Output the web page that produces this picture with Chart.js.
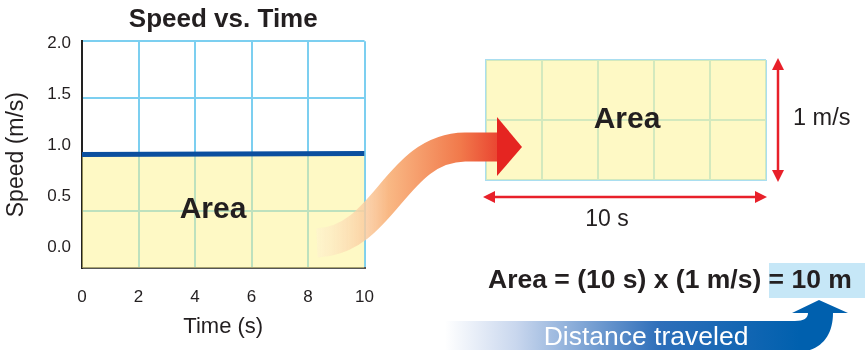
<!DOCTYPE html>
<html>
<head>
<meta charset="utf-8">
<script src="https://cdn.jsdelivr.net/npm/chart.js@4/dist/chart.umd.min.js"></script>
<style>
body{margin:0;width:865px;height:350px;position:relative;overflow:hidden;background:#fff;font-family:"Liberation Sans",Arial,sans-serif;color:#231f20}
canvas,svg{position:absolute}
.lbl{position:absolute;line-height:1;white-space:nowrap}
</style>
</head>
<body>
<canvas id="speedChart" width="393" height="350" style="left:0;top:0"></canvas>
<canvas id="areaChart" width="292" height="132" style="left:480px;top:54px"></canvas>

<svg width="865" height="350" style="left:0;top:0">
  <defs>
    <linearGradient id="orange" gradientUnits="userSpaceOnUse" x1="317" y1="0" x2="522" y2="0">
      <stop offset="0" stop-color="#fdf1d2" stop-opacity="0.5"/>
      <stop offset="0.35" stop-color="#f9b884"/>
      <stop offset="0.7" stop-color="#f1794b"/>
      <stop offset="1" stop-color="#e52521"/>
    </linearGradient>
    <linearGradient id="blue" gradientUnits="userSpaceOnUse" x1="445" y1="0" x2="800" y2="0">
      <stop offset="0" stop-color="#ffffff"/>
      <stop offset="0.2" stop-color="#c9d7ee"/>
      <stop offset="0.6" stop-color="#2f6fba"/>
      <stop offset="1" stop-color="#0060ae"/>
    </linearGradient>
  </defs>
  <!-- highlight behind the result -->
  <rect x="769" y="263" width="96" height="35" fill="#c6e7f7"/>
  <!-- blue banner arrow -->
  <path d="M445,321 L795,321 C804,321 808,318 808,313 L792,313 L819,300 L848,313 L833,313 C833,335 822,350 800,352 L445,352 Z" fill="url(#blue)"/>
  <!-- red dimension arrows -->
  <g stroke="#e8202a" stroke-width="2.5">
    <line x1="492" y1="197" x2="758" y2="197"/>
    <line x1="778" y1="66" x2="778" y2="174"/>
  </g>
  <g fill="#e8202a">
    <polygon points="483,197 495,191 495,203"/>
    <polygon points="767,197 755,191 755,203"/>
    <polygon points="778,58 772,70 784,70"/>
    <polygon points="778,182 772,170 784,170"/>
  </g>
  <!-- orange curved arrow -->
  <path d="M317,243 C385,240 395,148 465,147 L499,147" fill="none" stroke="url(#orange)" stroke-width="29"/>
  <polygon points="497,117 522,147 497,176" fill="#e52521"/>
</svg>

<div class="lbl" style="left:213px;top:208px;transform:translate(-50%,-50%);font-weight:bold;font-size:30px">Area</div>
<div class="lbl" style="left:627px;top:118px;transform:translate(-50%,-50%);font-weight:bold;font-size:30px">Area</div>
<div class="lbl" style="left:793px;top:118px;transform:translateY(-50%);font-size:23.5px">1 m/s</div>
<div class="lbl" style="left:607px;top:218px;transform:translate(-50%,-50%);font-size:23px">10 s</div>
<div class="lbl" style="left:488px;top:279px;transform:translateY(-50%);font-weight:bold;font-size:26.5px">Area = (10 s) x (1 m/s) = 10 m</div>
<div class="lbl" style="left:646px;top:336px;transform:translate(-50%,-50%);font-size:26.5px;color:#fff">Distance traveled</div>

<script>
// dados
var timeValues=[0,10];
var speedValues=[1.0,1.01];
var timeTicks=[0,2,4,6,8,10];
var speedTicks=[0.0,0.5,1.0,1.5,2.0];
var rectTime=[0,10];
var rectSpeed=[1,1];

Chart.defaults.font.family='"Liberation Sans", Arial, sans-serif';
Chart.defaults.color='#231f20';

var gridBlue='#7ccff0';
var fillYellow='rgba(253,243,140,0.5)';

function points(xs,ys){
    return xs.map(function(x,i){ return {x:x,y:ys[i]}; });
}

// Grafico Velocidade x Tempo
new Chart(document.getElementById("speedChart"), {
    type:'line',
    data:{
      datasets:[
        {
          data:points(timeValues,speedValues),
          borderColor:'#0b4f9f',
          borderWidth:5,
          backgroundColor:fillYellow,
          fill:'origin',
          pointRadius:0,
          yAxisID:'y'
        }
      ]
    },
    options:{
        responsive:false,
        animation:false,
        layout:{padding:{left:0,right:3,top:0,bottom:0}},
        plugins:{
            legend:{display:false},
            tooltip:{enabled:false},
            title:{
                display:true,
                text:'Speed vs. Time',
                fullSize:false,
                font:{size:26,weight:'bold'},
                padding:{top:4,bottom:6}
            }
        },
        scales:{
            x:{
                type:'linear',
                min:0,max:10,
                afterBuildTicks:function(s){ s.ticks=timeTicks.map(function(v){return {value:v};}); },
                afterFit:function(s){ s.height=82; },
                grid:{color:gridBlue,lineWidth:2,drawTicks:false},
                border:{color:'#555',width:2},
                ticks:{font:{size:17},padding:19,color:'#231f20'},
                title:{display:true,text:'Time (s)',font:{size:22},padding:{top:0,bottom:10}}
            },
            y:{
                position:'left',
                weight:0,
                min:0,max:2,
                afterBuildTicks:function(s){ s.ticks=speedTicks.map(function(v){return {value:v};}); },
                afterFit:function(s){ s.width=0; },
                grid:{color:gridBlue,lineWidth:2,drawTicks:false},
                border:{color:'#222',width:2},
                ticks:{display:false}
            },
            yl:{
                position:'left',
                weight:1,
                min:-0.206,max:2.02,
                afterBuildTicks:function(s){ s.ticks=speedTicks.map(function(v){return {value:v};}); },
                afterFit:function(s){ s.width=82; },
                grid:{display:false,drawTicks:false},
                border:{display:false},
                ticks:{font:{size:17},padding:11,color:'#231f20',callback:function(v){ return v.toFixed(1); }},
                title:{display:true,text:'Speed (m/s)',font:{size:23},padding:{top:3,bottom:0}}
            }
        }
    }
});

// Retangulo da area
new Chart(document.getElementById("areaChart"), {
    type:'line',
    data:{
      datasets:[
        {
          data:points(rectTime,rectSpeed),
          borderWidth:0,
          borderColor:'rgba(0,0,0,0)',
          backgroundColor:fillYellow,
          fill:'origin',
          pointRadius:0
        }
      ]
    },
    options:{
        responsive:false,
        animation:false,
        layout:{padding:6},
        plugins:{legend:{display:false},tooltip:{enabled:false}},
        scales:{
            x:{
                type:'linear',min:0,max:10,
                afterBuildTicks:function(s){ s.ticks=timeTicks.map(function(v){return {value:v};}); },
                afterFit:function(s){ s.height=0; },
                grid:{color:'#a9def0',lineWidth:2,drawTicks:false},
                border:{color:'#a9def0',width:2},
                ticks:{display:false}
            },
            y:{
                min:0,max:1,
                afterBuildTicks:function(s){ s.ticks=[0,0.5,1].map(function(v){return {value:v};}); },
                afterFit:function(s){ s.width=0; },
                grid:{color:'#a9def0',lineWidth:2,drawTicks:false},
                border:{color:'#a9def0',width:2},
                ticks:{display:false}
            }
        }
    }
});
</script>
</body>
</html>
